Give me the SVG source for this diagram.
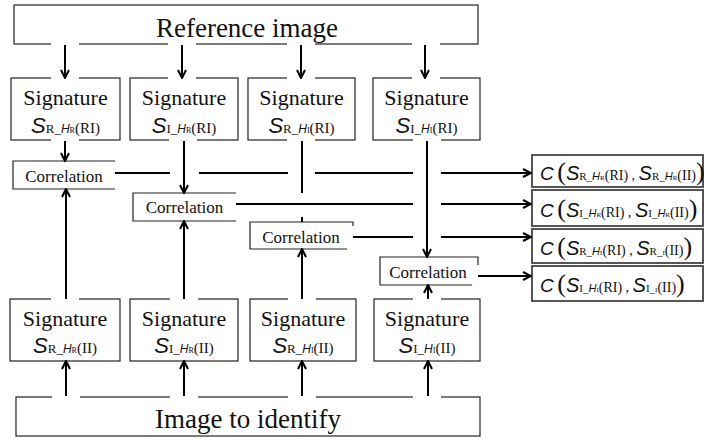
<svg xmlns="http://www.w3.org/2000/svg" width="705" height="439" viewBox="0 0 705 439">
<style>
.box{fill:#fff;stroke:#222;stroke-width:1.2}
.rbox{fill:#fff;stroke:#444;stroke-width:1.8}
.cb{fill:#fff;stroke:none}
.cbl{fill:none;stroke:#222;stroke-width:1.2}
.big{font-family:"Liberation Serif",serif;font-size:27px;fill:#111}
.sig{font-family:"Liberation Serif",serif;font-size:22px;fill:#111}
.cor{font-family:"Liberation Serif",serif;font-size:17px;fill:#111}
.lab{font-family:"Liberation Serif",serif;fill:#111}
.S{font-family:"Liberation Sans",sans-serif;font-style:italic;font-size:22px}
.u{font-family:"Liberation Serif",serif;font-size:13px}
.h{font-family:"Liberation Sans",sans-serif;font-style:italic;font-size:12px}
.t{font-family:"Liberation Serif",serif;font-size:8px}
.p{font-family:"Liberation Serif",serif;font-size:15px}
.rs .S{font-size:20px}
.rs .u{font-size:11px}
.rs .h{font-size:11px}
.rs .t{font-size:7px}
.rs .p{font-size:14px}
.C{font-family:"Liberation Sans",sans-serif;font-style:italic;font-size:19px}
.par{font-family:"Liberation Serif",serif;font-size:26px}
.gap{fill:#fff}
.ln{stroke:#000;stroke-width:2;fill:none}
.ar{stroke:#000;stroke-width:2;fill:none;marker-end:url(#ah)}
</style>
<defs>
<marker id="ah" viewBox="0 0 10 10" refX="9" refY="5" markerWidth="10" markerHeight="10" markerUnits="userSpaceOnUse" orient="auto">
<path d="M1,1 L9,5 L1,9" fill="none" stroke="#000" stroke-width="2"/>
</marker>
</defs>

<g id="ref">
<rect class="box" x="14" y="5" width="464" height="39"/>
<text class="big" x="247" y="37" text-anchor="middle">Reference image</text>
</g>

<g id="sigR1">
<rect class="box" x="11" y="78" width="109" height="62"/>
<text class="sig" x="65.5" y="105" text-anchor="middle">Signature</text>
<text class="lab" x="65.5" y="133" text-anchor="middle"><tspan class="S">S</tspan><tspan class="u">R_</tspan><tspan class="h">H</tspan><tspan class="t">R</tspan><tspan class="p">(RI)</tspan></text>
</g>
<g id="sigR2">
<rect class="box" x="130" y="78" width="108" height="62"/>
<text class="sig" x="184" y="105" text-anchor="middle">Signature</text>
<text class="lab" x="184" y="133" text-anchor="middle"><tspan class="S">S</tspan><tspan class="u">I_</tspan><tspan class="h">H</tspan><tspan class="t">R</tspan><tspan class="p">(RI)</tspan></text>
</g>
<g id="sigR3">
<rect class="box" x="248" y="78" width="107" height="62"/>
<text class="sig" x="301.5" y="105" text-anchor="middle">Signature</text>
<text class="lab" x="301.5" y="133" text-anchor="middle"><tspan class="S">S</tspan><tspan class="u">R_</tspan><tspan class="h">H</tspan><tspan class="t">I</tspan><tspan class="p">(RI)</tspan></text>
</g>
<g id="sigR4">
<rect class="box" x="373" y="78" width="107" height="62"/>
<text class="sig" x="426.5" y="105" text-anchor="middle">Signature</text>
<text class="lab" x="426.5" y="133" text-anchor="middle"><tspan class="S">S</tspan><tspan class="u">I_</tspan><tspan class="h">H</tspan><tspan class="t">I</tspan><tspan class="p">(RI)</tspan></text>
</g>

<g id="corr1">
<rect class="cb" x="13" y="161" width="102" height="28"/>
<path class="cbl" d="M115,161 H13 V189 H115"/>
<text class="cor" x="64" y="182" text-anchor="middle">Correlation</text>
</g>
<g id="corr2">
<rect class="cb" x="133" y="193" width="103" height="28"/>
<path class="cbl" d="M236,193 H133 V221 H236"/>
<text class="cor" x="184.5" y="213" text-anchor="middle">Correlation</text>
</g>
<g id="corr3">
<rect class="cb" x="250" y="222" width="103" height="27"/>
<path class="cbl" d="M353,226 V222 H250 V249 H347"/>
<text class="cor" x="301" y="243" text-anchor="middle">Correlation</text>
</g>
<g id="corr4">
<rect class="cb" x="380" y="257" width="98" height="28"/>
<path class="cbl" d="M478,265 V257 H380 V285 H472"/>
<text class="cor" x="428" y="278" text-anchor="middle">Correlation</text>
</g>

<g id="sigI1">
<rect class="box" x="10" y="299" width="110" height="62"/>
<text class="sig" x="65" y="326" text-anchor="middle">Signature</text>
<text class="lab" x="65" y="353" text-anchor="middle"><tspan class="S">S</tspan><tspan class="u">R_</tspan><tspan class="h">H</tspan><tspan class="t">R</tspan><tspan class="p">(II)</tspan></text>
</g>
<g id="sigI2">
<rect class="box" x="130" y="299" width="108" height="62"/>
<text class="sig" x="184" y="326" text-anchor="middle">Signature</text>
<text class="lab" x="184" y="353" text-anchor="middle"><tspan class="S">S</tspan><tspan class="u">I_</tspan><tspan class="h">H</tspan><tspan class="t">R</tspan><tspan class="p">(II)</tspan></text>
</g>
<g id="sigI3">
<rect class="box" x="250" y="299" width="106" height="62"/>
<text class="sig" x="303" y="326" text-anchor="middle">Signature</text>
<text class="lab" x="303" y="353" text-anchor="middle"><tspan class="S">S</tspan><tspan class="u">R_</tspan><tspan class="h">H</tspan><tspan class="t">I</tspan><tspan class="p">(II)</tspan></text>
</g>
<g id="sigI4">
<rect class="box" x="374" y="299" width="106" height="62"/>
<text class="sig" x="427" y="326" text-anchor="middle">Signature</text>
<text class="lab" x="427" y="353" text-anchor="middle"><tspan class="S">S</tspan><tspan class="u">I_</tspan><tspan class="h">H</tspan><tspan class="t">I</tspan><tspan class="p">(II)</tspan></text>
</g>

<g id="img">
<rect class="box" x="16" y="397" width="464" height="39"/>
<text class="big" x="248" y="428" text-anchor="middle">Image to identify</text>
</g>

<g id="res1" class="rs">
<rect class="rbox" x="532" y="155" width="171" height="32"/>
<text class="lab" x="540" y="180"><tspan class="C">C</tspan><tspan class="p"> </tspan><tspan class="par">(</tspan><tspan class="S">S</tspan><tspan class="u">R_</tspan><tspan class="h">H</tspan><tspan class="t">R</tspan><tspan class="p">(RI) , </tspan><tspan class="S">S</tspan><tspan class="u">R_</tspan><tspan class="h">H</tspan><tspan class="t">R</tspan><tspan class="p">(II)</tspan><tspan class="par">)</tspan></text>
</g>
<g id="res2" class="rs">
<rect class="rbox" x="532" y="190" width="171" height="36"/>
<text class="lab" x="540" y="217"><tspan class="C">C</tspan><tspan class="p"> </tspan><tspan class="par">(</tspan><tspan class="S">S</tspan><tspan class="u">I_</tspan><tspan class="h">H</tspan><tspan class="t">R</tspan><tspan class="p">(RI) , </tspan><tspan class="S">S</tspan><tspan class="u">I_</tspan><tspan class="h">H</tspan><tspan class="t">R</tspan><tspan class="p">(II)</tspan><tspan class="par">)</tspan></text>
</g>
<g id="res3" class="rs">
<rect class="rbox" x="532" y="229" width="171" height="34"/>
<text class="lab" x="540" y="255"><tspan class="C">C</tspan><tspan class="p"> </tspan><tspan class="par">(</tspan><tspan class="S">S</tspan><tspan class="u">R_</tspan><tspan class="h">H</tspan><tspan class="t">I</tspan><tspan class="p">(RI) , </tspan><tspan class="S">S</tspan><tspan class="u">R_</tspan><tspan class="t">I</tspan><tspan class="p">(II)</tspan><tspan class="par">)</tspan></text>
</g>
<g id="res4" class="rs">
<rect class="rbox" x="532" y="266" width="171" height="35"/>
<text class="lab" x="540" y="292"><tspan class="C">C</tspan><tspan class="p"> </tspan><tspan class="par">(</tspan><tspan class="S">S</tspan><tspan class="u">I_</tspan><tspan class="h">H</tspan><tspan class="t">I</tspan><tspan class="p">(RI) , </tspan><tspan class="S">S</tspan><tspan class="u">I_</tspan><tspan class="t">I</tspan><tspan class="p">(II)</tspan><tspan class="par">)</tspan></text>
</g>

<g id="gaps">
<rect class="gap" x="51" y="42" width="28" height="4"/>
<rect class="gap" x="168" y="42" width="28" height="4"/>
<rect class="gap" x="287" y="42" width="28" height="4"/>
<rect class="gap" x="412" y="42" width="28" height="4"/>
<rect class="gap" x="51" y="76" width="28" height="4"/>
<rect class="gap" x="168" y="76" width="28" height="4"/>
<rect class="gap" x="287" y="76" width="28" height="4"/>
<rect class="gap" x="412" y="76" width="28" height="4"/>
<rect class="gap" x="51" y="138" width="28" height="4"/>
<rect class="gap" x="169" y="138" width="28" height="4"/>
<rect class="gap" x="287" y="138" width="28" height="4"/>
<rect class="gap" x="413" y="138" width="28" height="4"/>
<rect class="gap" x="51" y="297" width="28" height="4"/>
<rect class="gap" x="170" y="297" width="28" height="4"/>
<rect class="gap" x="288" y="297" width="28" height="4"/>
<rect class="gap" x="413" y="297" width="28" height="4"/>
<rect class="gap" x="52" y="395" width="28" height="4"/>
<rect class="gap" x="170" y="395" width="28" height="4"/>
<rect class="gap" x="288" y="395" width="28" height="4"/>
<rect class="gap" x="413" y="395" width="28" height="4"/>
</g>

<g id="connectors">
<line class="ar" x1="65" y1="45" x2="65" y2="78"/>
<line class="ar" x1="182" y1="45" x2="182" y2="78"/>
<line class="ar" x1="301" y1="45" x2="301" y2="78"/>
<line class="ar" x1="425" y1="45" x2="425" y2="78"/>

<line class="ar" x1="65" y1="141" x2="65" y2="161"/>
<line class="ar" x1="184" y1="141" x2="184" y2="193"/>
<line class="ln" x1="302" y1="141" x2="302" y2="193"/>
<line class="ln" x1="302" y1="217" x2="302" y2="222"/>
<line class="ar" x1="427" y1="141" x2="427" y2="257"/>

<line class="ar" x1="66" y1="299" x2="66" y2="189"/>
<line class="ar" x1="184" y1="299" x2="184" y2="221"/>
<line class="ar" x1="302" y1="299" x2="302" y2="249"/>
<line class="ar" x1="428" y1="299" x2="428" y2="285"/>

<line class="ar" x1="66" y1="396" x2="66" y2="361"/>
<line class="ar" x1="184" y1="396" x2="184" y2="361"/>
<line class="ar" x1="302" y1="396" x2="302" y2="361"/>
<line class="ar" x1="428" y1="396" x2="428" y2="361"/>

<path class="ln" d="M115,173 H170 M199,173 H288 M315,173 H413"/>
<line class="ar" x1="441" y1="173" x2="531" y2="173"/>
<path class="ln" d="M236,204 H413"/>
<line class="ar" x1="441" y1="204" x2="531" y2="204"/>
<path class="ln" d="M353,237 H413"/>
<line class="ar" x1="441" y1="237" x2="531" y2="237"/>
<line class="ar" x1="478" y1="276" x2="531" y2="276"/>
</g>
</svg>
